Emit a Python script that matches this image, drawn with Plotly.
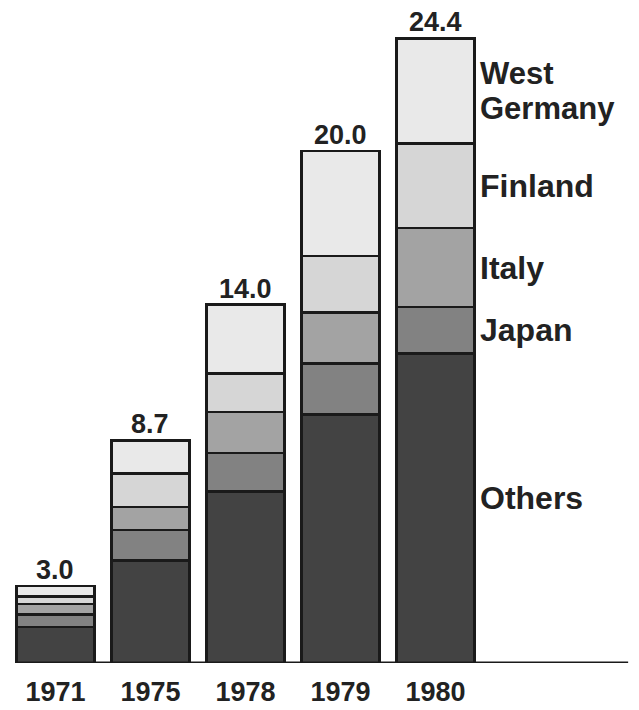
import plotly.graph_objects as go

years = ["1971", "1975", "1978", "1979", "1980"]
totals = [3.0, 8.7, 14.0, 20.0, 24.4]
others = [1.4, 4.0, 6.7, 9.7, 12.1]
japan = [0.5, 1.2, 1.5, 2.0, 1.8]
italy = [0.4, 0.9, 1.6, 2.0, 3.1]
finland = [0.3, 1.3, 1.5, 2.2, 3.3]
west_germany = [0.4, 1.3, 2.7, 4.1, 4.1]

series = [
    ("Others", others, "#434343"),
    ("Japan", japan, "#828282"),
    ("Italy", italy, "#a3a3a3"),
    ("Finland", finland, "#d6d6d6"),
    ("West Germany", west_germany, "#e9e9e9"),
]

FONT = "Liberation Sans, Arial, sans-serif"
fig = go.Figure()
idx = list(range(len(years)))
for name, vals, color in series:
    fig.add_trace(go.Bar(
        x=idx, y=vals, name=name,
        marker=dict(color=color, line=dict(color="#1a1a1a", width=2.5)),
        width=0.82,
    ))

# totals above bars
for i, t in zip(idx, totals):
    fig.add_annotation(x=i, y=t, text=f"<b>{t:.1f}</b>", showarrow=False,
                       yanchor="bottom", yshift=-1,
                       font=dict(family=FONT, size=27, color="#222"))

# series labels next to last bar, at segment midpoints
cum = 0.0
for name, vals, color in series:
    v = vals[-1]
    mid = cum + v / 2
    cum += v
    words = name.split(" ")
    if len(words) == 2:
        # two-line label: base size sets a compact line spacing
        txt = "<br>".join(f"<span style='font-size:31px'><b>{w}</b></span>" for w in words)
        size, ys = 27, 0
    else:
        txt = f"<b>{name}</b>"
        size, ys = 32, (10 if name == "Others" else 0)
    fig.add_annotation(x=idx[-1], y=mid, text=txt, showarrow=False,
                       xanchor="left", xshift=42, yshift=ys, align="left",
                       font=dict(family=FONT, size=size, color="#222"))

# baseline
fig.add_shape(type="line", xref="paper", yref="y", x0=0.025, x1=0.983, y0=0, y1=0,
              line=dict(color="#1a1a1a", width=3))

fig.update_layout(
    width=639, height=710,
    barmode="stack", showlegend=False,
    plot_bgcolor="white", paper_bgcolor="white",
    margin=dict(l=0, r=0, t=0, b=47),
    xaxis=dict(type="linear", range=[-0.584, 6.142], showgrid=False, zeroline=False,
               showline=False, ticks="",
               tickvals=idx, ticktext=[f"<b>{y}</b>" for y in years],
               tickfont=dict(family=FONT, size=27, color="#222"),
               ticklabelstandoff=10),
    yaxis=dict(range=[0, 25.9], visible=False),
)

fig.write_html("out.html")
